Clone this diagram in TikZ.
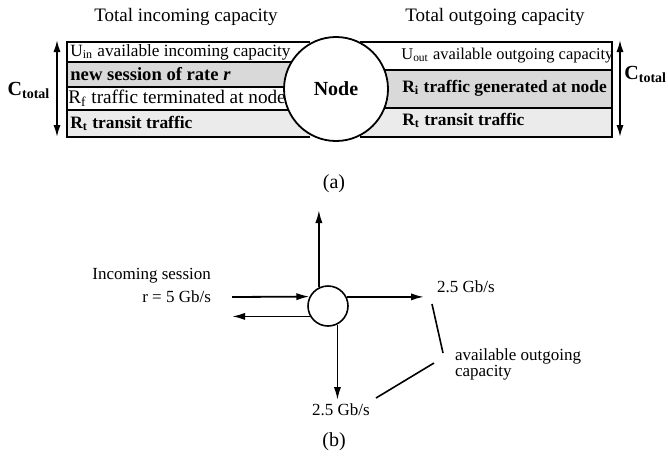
\documentclass[tikz,border=0pt]{standalone}
\usepackage{fontspec}
\setmainfont{Liberation Serif}
\usetikzlibrary{arrows.meta, positioning, calc}

\begin{document}
\begin{tikzpicture}[
    x=0.5pt, y=-0.5pt,
    font=\fontsize{9}{10}\selectfont,
    boxLine/.style={line width=0.8pt},
    darkShade/.style={fill=black!15},
    lightShade/.style={fill=black!8},
    rowText/.style={anchor=west, inner sep=0pt, font=\fontsize{8.6}{10}\selectfont},
    boldRow/.style={anchor=west, inner sep=0pt, font=\fontsize{8.7}{10}\selectfont\bfseries},
    capLbl/.style={font=\fontsize{10}{11}\selectfont\bfseries},
    hubNode/.style={circle, draw, line width=0.9pt, fill=white, minimum size=52pt, inner sep=0pt, font=\fontsize{10}{11}\selectfont\bfseries},
    smallHub/.style={circle, draw, line width=0.8pt, fill=white, minimum size=20pt, inner sep=0pt},
    arrLine/.style={-{Latex[length=6.5pt,width=3.6pt]}, line width=0.9pt},
    dblArr/.style={{Latex[length=6pt,width=3.6pt]}-{Latex[length=6pt,width=3.6pt]}, line width=0.9pt}
]
\useasboundingbox (0,0) rectangle (668,457);

% (a) capacity bars on both sides of the node
\node (inTitle) at (186,17) {\fontsize{9.5}{10}\selectfont Total incoming capacity};
\node (outTitle) at (495,17) {\fontsize{9.5}{10}\selectfont Total outgoing capacity};

\fill[darkShade] (67,62) rectangle (310,87);
\fill[lightShade] (67,110) rectangle (310,137);
\draw[boxLine] (310,42) -- (67,42) -- (67,137) -- (310,137);
\foreach \yy in {62,87,110}
    \draw[boxLine] (67,\yy) -- (300,\yy);

\fill[darkShade] (360,70) rectangle (612,108);
\fill[lightShade] (360,108) rectangle (612,137);
\draw[boxLine] (360,42) -- (612,42) -- (612,137) -- (360,137);
\foreach \yy in {70,108}
    \draw[boxLine] (370,\yy) -- (612,\yy);

\node[hubNode] (hub) at (336,89) {Node};

\node[rowText] (uIn) at (70,52) {U\textsubscript{in} available incoming capacity};
\node[boldRow, font=\fontsize{9.3}{10}\selectfont\bfseries] (newSess) at (70,74) {new session of rate \textit{r}};
\node[rowText, font=\fontsize{9.6}{11}\selectfont] (rF) at (68,98) {R\textsubscript{f} traffic terminated at node};
\node[boldRow] (rTin) at (70,123) {R\textsubscript{t} transit traffic};

\node[rowText, font=\fontsize{8.2}{10}\selectfont] (uOut) at (401,56) {U\textsubscript{out} available outgoing capacity};
\node[boldRow] (rI) at (402,88) {R\textsubscript{i} traffic generated at node};
\node[boldRow] (rTout) at (402,120) {R\textsubscript{t} transit traffic};

\coordinate (inTop) at (57,40);
\coordinate (inBot) at (57,137);
\draw[dblArr] (inTop) -- (inBot);
\node[capLbl] (cIn) at (29,90) {C\textsubscript{total}};

\coordinate (outTop) at (620,40);
\coordinate (outBot) at (620,137);
\draw[dblArr] (outTop) -- (outBot);
\node[capLbl, anchor=west, inner sep=0pt] (cOut) at (624,74) {C\textsubscript{total}};

\node (capA) at (334,184) {\fontsize{10}{11}\selectfont (a)};

% (b) a single node splitting the incoming session
\node[smallHub] (sw) at (328,306) {};

\coordinate (upEnd) at (319,210);
\coordinate (downEnd) at (337,400);
\coordinate (inStart) at (232,297);
\coordinate (backEnd) at (232,316);
\coordinate (rightEnd) at (424,297);

\draw[arrLine] (inStart) -- (sw.153.3);
\draw[arrLine] (sw.210) -- (backEnd |- sw.210);
\draw[arrLine] (sw.116.7) -- (sw.116.7 |- upEnd);
\draw[arrLine] (sw.-63.3) -- (sw.-63.3 |- downEnd);
\draw[arrLine] (sw.26.7) -- (rightEnd |- sw.26.7);

\node[align=right, anchor=east, font=\fontsize{8.5}{11.5}\selectfont] (sessLbl) at (218,285) {Incoming session\\r = 5 Gb/s};
\node[anchor=west, font=\fontsize{8.5}{10}\selectfont] (rightLbl) at (430,287) {2.5 Gb/s};
\node[font=\fontsize{8.5}{10}\selectfont] (downLbl) at (341,410) {2.5 Gb/s};
\node[anchor=west, align=left, font=\fontsize{8.5}{8}\selectfont] (availLbl) at (448,364) {available outgoing\\capacity};

\coordinate (tickA) at (432,304);
\coordinate (tickB) at (443,353);
\coordinate (tickC) at (434,363);
\coordinate (tickD) at (376,398);
\draw[line width=0.8pt] (tickA) -- (tickB);
\draw[line width=0.8pt] (tickC) -- (tickD);

\node (capB) at (334,442) {\fontsize{10}{11}\selectfont (b)};

\end{tikzpicture}
\end{document}
